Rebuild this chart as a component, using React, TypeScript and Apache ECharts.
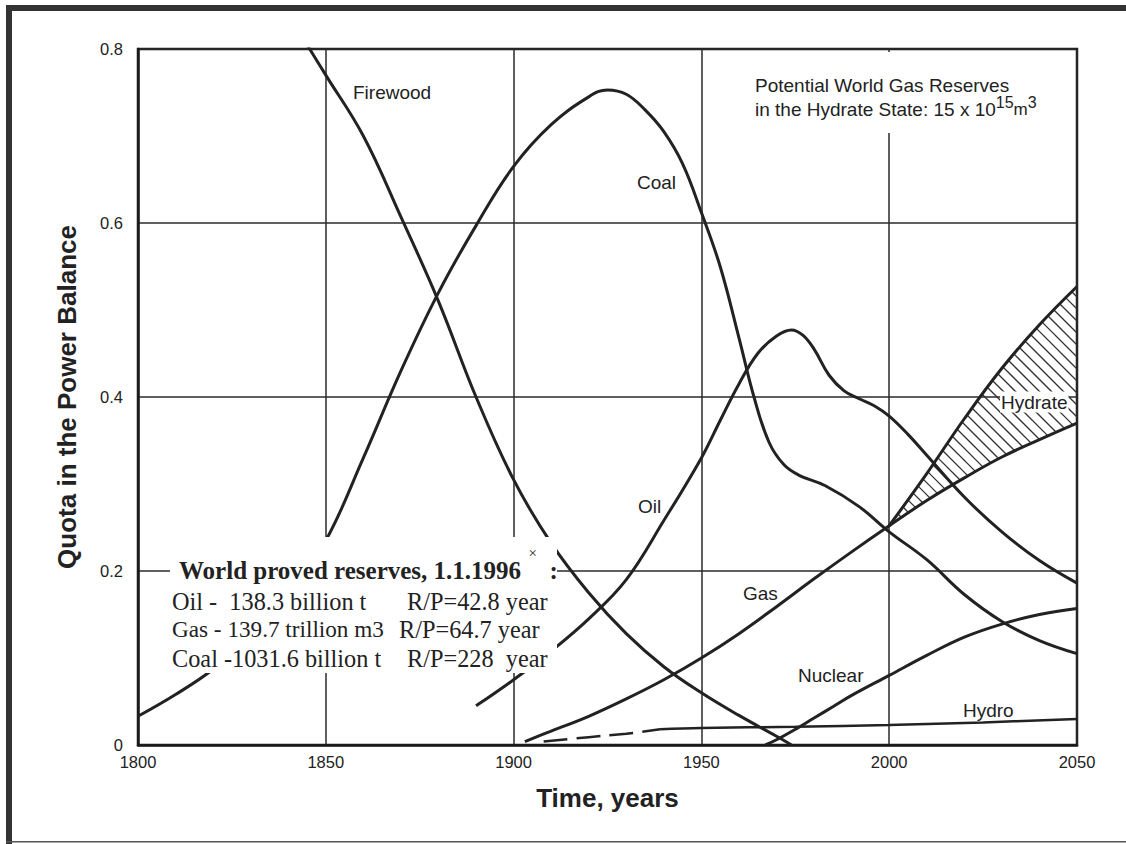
import React, { useEffect, useRef } from 'react';
import * as echarts from 'echarts';

// ---- data (year, share of power balance) ----
const firewood: [number, number][] = [
  [1845, 0.805], [1850, 0.77], [1860, 0.7], [1870, 0.607], [1880, 0.51], [1890, 0.4],
  [1900, 0.305], [1910, 0.232], [1920, 0.175], [1930, 0.128], [1940, 0.09], [1950, 0.06],
  [1960, 0.034], [1970, 0.01], [1974, 0],
];
const coal: [number, number][] = [
  [1800, 0.033], [1810, 0.058], [1820, 0.087], [1830, 0.125], [1840, 0.172], [1850, 0.235],
  [1860, 0.33], [1870, 0.43], [1880, 0.52], [1890, 0.597], [1900, 0.665], [1910, 0.713],
  [1920, 0.745], [1925, 0.753], [1930, 0.748], [1935, 0.73], [1940, 0.705], [1945, 0.668],
  [1950, 0.612], [1955, 0.55], [1960, 0.468], [1964, 0.4], [1968, 0.348], [1972, 0.322],
  [1976, 0.31], [1983, 0.298], [1992, 0.274], [2000, 0.245], [2010, 0.213], [2020, 0.173],
  [2030, 0.142], [2040, 0.12], [2050, 0.105],
];
const oil: [number, number][] = [
  [1890, 0.045], [1900, 0.075], [1910, 0.108], [1920, 0.145], [1930, 0.19], [1940, 0.258],
  [1950, 0.33], [1955, 0.373], [1960, 0.415], [1965, 0.45], [1970, 0.47], [1974, 0.477],
  [1977, 0.471], [1980, 0.455], [1984, 0.425], [1988, 0.407], [1992, 0.398], [1996, 0.39],
  [2000, 0.378], [2005, 0.357], [2010, 0.333], [2020, 0.285], [2030, 0.245], [2040, 0.212],
  [2050, 0.186],
];
const gas: [number, number][] = [
  [1903, 0.004], [1910, 0.016], [1920, 0.033], [1930, 0.053], [1940, 0.075], [1950, 0.1],
  [1960, 0.128], [1970, 0.159], [1980, 0.191], [1990, 0.222], [2000, 0.252], [2010, 0.281],
  [2020, 0.307], [2030, 0.331], [2040, 0.351], [2050, 0.37],
];
const hydrate: [number, number][] = [
  [2000, 0.252], [2010, 0.312], [2020, 0.375], [2030, 0.433], [2040, 0.483], [2050, 0.527],
];
const nuclear: [number, number][] = [
  [1967, 0], [1970, 0.006], [1975, 0.018], [1980, 0.031], [1985, 0.044], [1990, 0.057],
  [2000, 0.08], [2010, 0.103], [2020, 0.124], [2030, 0.139], [2040, 0.15], [2050, 0.157],
];
const hydroEarly: [number, number][] = [[1908, 0.004], [1920, 0.009], [1930, 0.013], [1939, 0.018]];
const hydro: [number, number][] = [
  [1939, 0.018], [1950, 0.0195], [1975, 0.021], [2000, 0.023], [2025, 0.026], [2050, 0.03],
];

const xName = 'Time, years';
const yName = 'Quota in the Power Balance';
const reservesTitle = 'World proved reserves, 1.1.1996';
const reservesRows: [string, string][] = [
  ['Oil -  138.3 billion t', 'R/P=42.8 year'],
  ['Gas - 139.7 trillion m3', 'R/P=64.7 year'],
  ['Coal -1031.6 billion t', 'R/P=228  year'],
];

const INK = '#222';
const SANS = '"Liberation Sans", Arial, sans-serif';
const SERIF = '"Liberation Serif", "Times New Roman", serif';

function text(t: string, x: number, y: number, size: number, extra: any = {}) {
  return {
    type: 'text',
    x,
    y,
    z: 120,
    silent: true,
    style: {
      text: t,
      fontSize: size,
      fontFamily: SANS,
      fill: INK,
      align: 'left',
      textAlign: 'left',
      verticalAlign: 'middle',
      textVerticalAlign: 'middle',
      ...extra,
    },
  };
}

export default function App() {
  const ref = useRef<HTMLDivElement>(null);
  useEffect(() => {
    document.body.style.margin = '0';
    const chart = echarts.init(ref.current!, null, { renderer: 'svg' });

    const line = (name: string, data: [number, number][], extra: any = {}) => ({
      type: 'line',
      name,
      data,
      smooth: 0.4,
      symbol: 'none',
      silent: true,
      z: 3,
      lineStyle: { color: INK, width: 3 },
      ...extra,
    });

    const gasFuture = gas.filter((p) => p[0] >= 2000);

    // hatched band between the gas curve and the hydrate curve
    const hatchSeries = {
      type: 'custom',
      name: 'Hydrate band',
      silent: true,
      z: 1,
      data: [[2000, 0.25]],
      renderItem: (_params: any, api: any) => {
        const up = hydrate.map((p) => api.coord(p));
        const lo = gasFuture.map((p) => api.coord(p));
        const poly = [...up, ...lo.slice().reverse()];
        const ds = poly.map((p) => p[1] - p[0]);
        const cMin = Math.min(...ds);
        const cMax = Math.max(...ds);
        const step = 12;
        const children: any[] = [];
        for (let c = Math.ceil(cMin / step) * step; c <= cMax; c += step) {
          const pts: number[][] = [];
          for (let i = 0; i < poly.length; i++) {
            const P = poly[i];
            const Q = poly[(i + 1) % poly.length];
            const fp = P[1] - P[0] - c;
            const fq = Q[1] - Q[0] - c;
            if (fp < 0 !== fq < 0) {
              const t = fp / (fp - fq);
              pts.push([P[0] + t * (Q[0] - P[0]), P[1] + t * (Q[1] - P[1])]);
            }
          }
          pts.sort((a, b) => a[0] - b[0]);
          for (let k = 0; k + 1 < pts.length; k += 2) {
            children.push({
              type: 'line',
              shape: { x1: pts[k][0], y1: pts[k][1], x2: pts[k + 1][0], y2: pts[k + 1][1] },
              style: { stroke: '#333', lineWidth: 1.3 },
            });
          }
        }
        return { type: 'group', children };
      },
    };

    const axisLabel = { color: INK, fontSize: 16.5, fontFamily: SANS };
    const nameTextStyle = { color: INK, fontSize: 26, fontWeight: 'bold', fontFamily: SANS };
    const splitLine = { show: true, lineStyle: { color: '#2a2a2a', width: 1.5 } };
    const axisLine = { show: true, lineStyle: { color: '#1a1a1a', width: 2.5 } };

    const rowY = [601, 629, 658];
    const rowSize = [24.3, 23.2, 24.3];
    const rpX = [407, 399, 407];

    const option: any = {
      animation: false,
      backgroundColor: '#fff',
      grid: {
        left: 138, top: 49, width: 939, height: 696,
        show: true, borderColor: '#1a1a1a', borderWidth: 2.5, backgroundColor: 'transparent',
      },
      xAxis: {
        type: 'value', min: 1800, max: 2050, interval: 50,
        name: xName, nameLocation: 'middle', nameGap: 40, nameTextStyle,
        axisLine, axisTick: { show: false }, splitLine,
        axisLabel: { ...axisLabel, margin: 8, formatter: (v: number) => String(v) },
      },
      yAxis: {
        type: 'value', min: 0, max: 0.8, interval: 0.2,
        name: yName, nameLocation: 'middle', nameGap: 58, nameTextStyle,
        axisLine, axisTick: { show: false }, splitLine,
        axisLabel: { ...axisLabel, margin: 15 },
      },
      series: [
        hatchSeries,
        line('Firewood', firewood),
        line('Coal', coal),
        line('Oil', oil),
        line('Gas', gas),
        line('Hydrate', hydrate),
        line('Nuclear', nuclear),
        line('Hydro early', hydroEarly, { lineStyle: { color: INK, width: 2.5, type: [24, 9] } }),
        line('Hydro', hydro, { lineStyle: { color: INK, width: 2.5 } }),
      ],
      graphic: [
        // outer frame of the scanned figure
        { type: 'rect', z: 130, silent: true, shape: { x: 6, y: 5, width: 1120, height: 6 }, style: { fill: '#333' } },
        { type: 'rect', z: 130, silent: true, shape: { x: 6, y: 5, width: 6, height: 839 }, style: { fill: '#333' } },
        { type: 'rect', z: 130, silent: true, shape: { x: 6, y: 841, width: 1120, height: 1.5 }, style: { fill: '#555' } },
        // masks
        { type: 'rect', z: 105, silent: true, shape: { x: 748, y: 52, width: 290, height: 81 }, style: { fill: '#fff' } },
        { type: 'rect', z: 105, silent: true, shape: { x: 170, y: 537, width: 387, height: 136 }, style: { fill: '#fff' } },
        // annotation
        text('Potential World Gas Reserves', 755, 85, 19),
        text('{a|in the Hydrate State: 15 x 10}{s|15}{m|m}{s|3}', 755, 109, 19, {
          rich: {
            a: { fontSize: 19, fontFamily: SANS, fill: INK, lineHeight: 30 },
            s: { fontSize: 16, fontFamily: SANS, fill: INK, verticalAlign: 'top', lineHeight: 16 },
            m: { fontSize: 17, fontFamily: SANS, fill: INK, lineHeight: 30 },
          },
        }),
        // reserves box
        text(`{t|${reservesTitle}}{x|  ×}{t|  :}`, 179, 570, 25, {
          rich: {
            t: { fontSize: 25, fontFamily: SERIF, fontWeight: 'bold', fill: INK, lineHeight: 50 },
            x: { fontSize: 15, fontFamily: SERIF, fill: INK, verticalAlign: 'top', lineHeight: 15 },
          },
        }),
        ...reservesRows.flatMap((r, i) => [
          text(r[0], 172, rowY[i], rowSize[i], { fontFamily: SERIF }),
          text(r[1], rpX[i], rowY[i], 24.3, { fontFamily: SERIF }),
        ]),
        // curve labels
        text('Firewood', 353, 92, 19),
        text('Coal', 637, 182, 19),
        text('Oil', 638, 506, 19),
        text('Gas', 743, 593, 19),
        text('Nuclear', 798, 675, 19),
        text('Hydro', 963, 710, 19),
        text('Hydrate', 1000, 402, 19, { backgroundColor: '#fff', padding: [1, 1] }),
      ],
    };
    chart.setOption(option);
    return () => chart.dispose();
  }, []);
  return <div ref={ref} style={{ width: 1126, height: 844 }} />;
}
